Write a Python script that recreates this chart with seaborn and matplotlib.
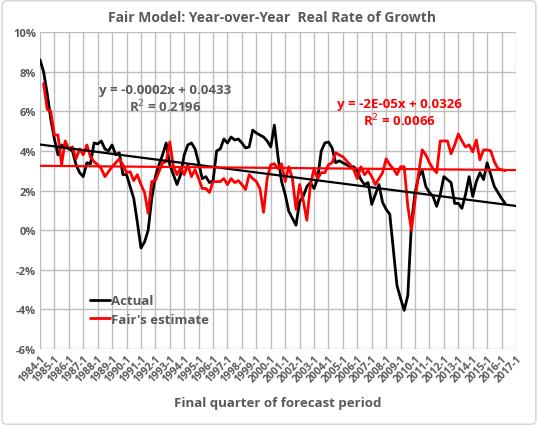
import numpy as np
import pandas as pd
import matplotlib
matplotlib.use("Agg")
import matplotlib.pyplot as plt
import seaborn as sns
from matplotlib.ticker import FuncFormatter, MultipleLocator
from matplotlib.patches import FancyBboxPatch

###################################
# Data (percent, quarterly from 1984-1).

actual = [
    8.6, 8.0, 6.9, 5.6, 4.6, 3.8, 4.3, 4.2, 4.1, 4.0,
    3.3, 2.9, 2.7, 3.4, 3.35, 4.4, 4.35, 4.5, 4.1, 4.0,
    4.3, 3.8, 3.9, 2.8, 2.8, 2.2, 1.6, 0.4, -0.9, -0.6,
    0.0, 1.6, 2.7, 3.3, 3.8, 4.4, 3.3, 2.8, 2.3, 2.8,
    3.8, 4.3, 4.4, 4.1, 3.4, 2.6, 2.7, 2.4, 2.5, 4.0,
    4.1, 4.6, 4.4, 4.7, 4.55, 4.6, 4.4, 4.15, 4.2, 5.05,
    4.9, 4.8, 4.7, 4.5, 4.2, 5.3, 3.7, 2.45, 1.8, 0.95,
    0.6, 0.25, 1.45, 1.7, 2.2, 2.4, 2.1, 2.6, 4.0, 4.4,
    4.45, 4.15, 3.4, 3.5, 3.4, 3.3, 3.2, 3.2, 3.0, 2.55,
    2.3, 2.4, 1.3, 1.8, 2.3, 1.4, 1.05, 0.8, -1.0, -2.8,
    -3.45, -4.05, -3.3, 0.3, 1.9, 2.7, 3.0, 2.2, 1.9, 1.7,
    1.2, 1.8, 2.7, 2.55, 2.4, 1.35, 1.35, 1.1, 1.8, 2.7,
    1.7, 2.45, 2.9, 2.55, 3.4, 2.8, 2.2, 1.9, 1.6, 1.35,
]

fair_estimate = [
    np.nan, 7.4, 6.1, 6.0, 4.8, 4.8, 3.3, 4.5, 4.1, 4.2,
    3.6, 4.1, 3.8, 4.3, 3.7, 3.45, 3.3, 3.1, 2.7, 2.95,
    3.2, 3.4, 3.6, 3.3, 2.9, 2.95, 2.5, 2.8, 2.3, 1.9,
    0.85, 2.45, 2.5, 2.95, 3.4, 3.45, 4.45, 3.2, 2.8, 3.15,
    2.8, 3.3, 2.7, 3.05, 2.6, 2.1, 2.1, 1.9, 2.45, 2.45,
    2.45, 2.6, 2.3, 2.6, 2.4, 2.5, 2.3, 2.05, 2.8, 2.6,
    2.45, 2.1, 0.9, 2.6, 3.3, 3.35, 3.1, 3.35, 2.45, 3.2,
    2.6, 1.05, 2.3, 1.5, 0.5, 2.3, 3.1, 2.6, 2.9, 2.9,
    3.3, 3.4, 3.9, 3.8, 3.7, 3.5, 3.3, 3.05, 2.6, 3.2,
    2.8, 3.0, 2.7, 2.3, 2.6, 2.9, 3.6, 3.3, 3.1, 2.8,
    3.2, 3.2, 1.2, 0.0, 1.5, 2.9, 4.05, 3.8, 3.4, 3.1,
    2.9, 4.5, 4.5, 4.5, 3.85, 4.3, 4.85, 4.5, 4.2, 4.3,
    3.95, 4.55, 3.55, 4.05, 4.05, 4.0, 3.45, 3.1, 3.05, 3.0,
]

tick_years = list(range(1984, 2018))
tick_labels = ["{}-1".format(y) for y in tick_years]

###################################

gray = "#595959"
red = "#FF0000"
grid_col = "#BDBDBD"

df = pd.DataFrame({
    "quarter": np.arange(len(actual)),
    "actual": actual,
    "fair": fair_estimate,
})

sns.set_style("white")
plt.rcParams["font.family"] = ["Open Sans", "DejaVu Sans"]

fig = plt.figure(figsize=(5.38, 4.27), dpi=100)
ax = fig.add_axes([0.0743, 0.1803, 0.8848, 0.7424])

# Light chart border like the spreadsheet frame.
fig.patches.append(FancyBboxPatch((0.004, 0.004), 0.992, 0.992,
                                  boxstyle="round,pad=0,rounding_size=0.01",
                                  transform=fig.transFigure, fill=False,
                                  edgecolor="#D9D9D9", linewidth=1.2))

n_ticks = len(tick_labels)
x_end = (n_ticks - 1) * 4
ax.set_xlim(0, x_end)
ax.set_ylim(-6, 10)

# Gridlines under the series.
for yv in np.arange(-6, 11, 2):
    ax.plot([0, x_end], [yv, yv], color=grid_col, linewidth=1.0, zorder=0.5)
for xv in np.arange(0, x_end + 1, 4):
    ax.plot([xv, xv], [-6, 10], color=grid_col, linewidth=1.0, zorder=0.5)

sns.lineplot(data=df, x="quarter", y="actual", color="black",
             linewidth=2, label="Actual", ax=ax, zorder=3)
sns.lineplot(data=df, x="quarter", y="fair", color=red,
             linewidth=2, label="Fair's estimate", ax=ax, zorder=3)

# Linear trend lines across the full axis.
sns.regplot(data=df, x="quarter", y="actual", scatter=False, ci=None,
            truncate=False, color="black",
            line_kws={"linewidth": 1.6, "zorder": 4}, ax=ax)
sns.regplot(data=df.dropna(), x="quarter", y="fair", scatter=False, ci=None,
            truncate=False, color=red,
            line_kws={"linewidth": 1.6, "zorder": 4}, ax=ax)

ax.set_xlim(0, x_end)
ax.set_ylim(-6, 10)
ax.set_xticks(np.arange(n_ticks) * 4)
ax.set_xticklabels(tick_labels, rotation=45, ha="right",
                   rotation_mode="anchor", fontsize=7.5,
                   fontweight="bold", color=gray)
ax.yaxis.set_major_locator(MultipleLocator(2))
ax.yaxis.set_major_formatter(FuncFormatter(lambda v, p: "{:.0f}%".format(v)))
for lab in ax.get_yticklabels():
    lab.set_fontsize(8)
    lab.set_fontweight("bold")
    lab.set_color(gray)
ax.tick_params(axis="both", length=0, pad=3)
ax.grid(False)
for s in ax.spines.values():
    s.set_visible(False)

ax.set_xlabel("Final quarter of forecast period", fontsize=9.5,
              fontweight="bold", color=gray, labelpad=8)
ax.set_ylabel("")

fig.text(0.505, 0.958, "Fair Model: Year-over-Year  Real Rate of Growth",
         ha="center", va="center", fontsize=10, fontweight="bold",
         color=gray)

# Trendline equations.
ax.text(0.263, 0.79, "y = -0.0002x + 0.0433\nR$^2$ = 0.2196",
        transform=ax.transAxes, ha="center", va="center", fontsize=9.5,
        fontweight="bold", color=gray, linespacing=1.15)
ax.text(0.755, 0.745, "y = -2E-05x + 0.0326\nR$^2$ = 0.0066",
        transform=ax.transAxes, ha="center", va="center", fontsize=9.5,
        fontweight="bold", color=red, linespacing=1.15)

leg = ax.legend(loc="upper left", bbox_to_anchor=(0.08, 0.21),
                frameon=False, handlelength=1.5, handletextpad=0.1,
                labelspacing=0.4, prop={"size": 9.5, "weight": "bold"})
for t in leg.get_texts():
    t.set_color(gray)

fig.savefig("out.png", dpi=100)
